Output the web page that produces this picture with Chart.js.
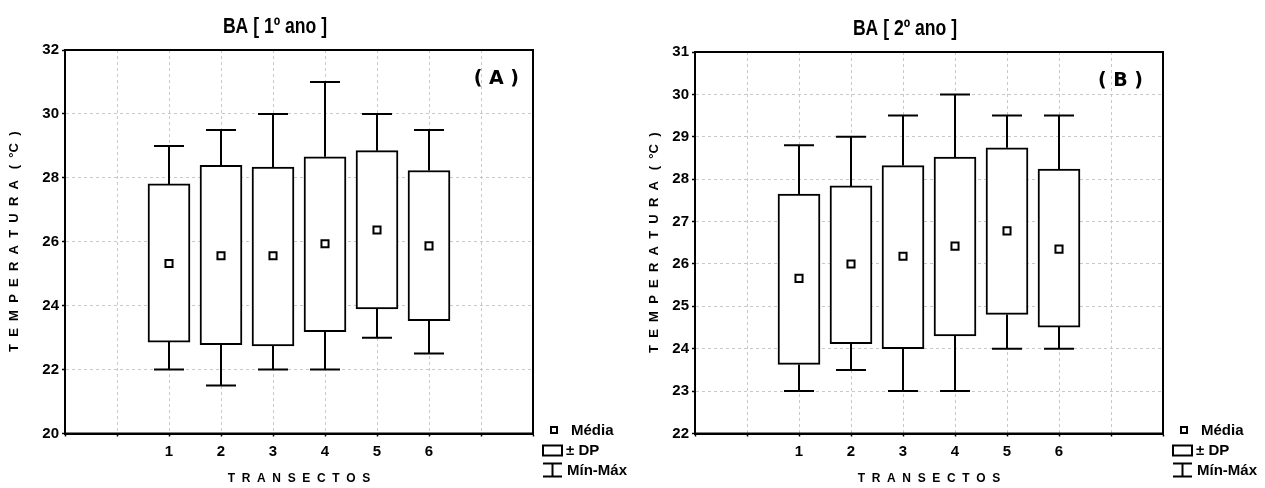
<!DOCTYPE html>
<html>
<head>
<meta charset="utf-8">
<script src="https://cdn.jsdelivr.net/npm/chart.js@4.4.0/dist/chart.umd.min.js"></script>
<style>
  html, body { margin: 0; padding: 0; background: #fff; }
  #page { position: relative; width: 1265px; height: 488px; }
  .panel { position: absolute; top: 0; height: 488px; }
  #panelA { left: 0; width: 640px; }
  #panelB { left: 640px; width: 625px; }
</style>
</head>
<body>
<div id="page">
  <div class="panel" id="panelA"><canvas id="chartA"></canvas></div>
  <div class="panel" id="panelB"><canvas id="chartB"></canvas></div>
</div>
<script>
// transects on the x axis
const transectos = [1, 2, 3, 4, 5, 6];

// BA 1st year
const ano1Media = [25.32, 25.56, 25.56, 25.94, 26.37, 25.87];
const ano1DPmin = [22.86, 22.78, 22.74, 23.19, 23.90, 23.53];
const ano1DPmax = [27.81, 28.39, 28.34, 28.66, 28.85, 28.23];
const ano1Min = [22, 21.5, 22, 22, 23, 22.5];
const ano1Max = [29, 29.5, 30, 31, 30, 29.5];

// BA 2nd year
const ano2Media = [25.66, 26.00, 26.18, 26.42, 26.78, 26.35];
const ano2DPmin = [23.63, 24.12, 24.00, 24.30, 24.81, 24.51];
const ano2DPmax = [27.65, 27.84, 28.32, 28.52, 28.74, 28.24];
const ano2Min = [23, 23.5, 23, 23, 24, 24];
const ano2Max = [28.8, 29, 29.5, 30, 29.5, 29.5];

// y axis ranges / tick steps
const yRangeA = [20, 32];
const yStepA = 2;
const yRangeB = [22, 31];
const yStepB = 1;

const legendLabels = ['Média', '± DP', 'Mín-Máx'];

Chart.defaults.font.family = "'Liberation Sans', Arial, sans-serif";
Chart.defaults.font.weight = 'bold';
Chart.defaults.color = '#000';

// whiskers, frame, titles and the little legend
const boxExtras = {
  id: 'boxExtras',
  beforeDatasetsDraw(chart, args, opts) {
    const { ctx, scales: { x, y } } = chart;
    ctx.save();
    ctx.strokeStyle = '#000';
    ctx.lineWidth = 2;
    transectos.forEach((t, i) => {
      const px = x.getPixelForValue(t);
      [[opts.lo[i], opts.min[i]], [opts.hi[i], opts.max[i]]].forEach(([from, to]) => {
        const y0 = y.getPixelForValue(from);
        const y1 = y.getPixelForValue(to);
        ctx.beginPath();
        ctx.moveTo(px, y0);
        ctx.lineTo(px, y1);
        ctx.moveTo(px - 15, y1);
        ctx.lineTo(px + 15, y1);
        ctx.stroke();
      });
    });
    ctx.restore();
  },
  afterDraw(chart, args, opts) {
    const { ctx, chartArea: a } = chart;
    ctx.save();
    // frame
    ctx.strokeStyle = '#000';
    ctx.lineWidth = 2;
    ctx.strokeRect(a.left, a.top, a.right - a.left, a.bottom - a.top);

    // title (narrow font)
    ctx.fillStyle = '#000';
    ctx.textBaseline = 'middle';
    ctx.textAlign = 'center';
    ctx.save();
    ctx.translate(a.left + 210, a.top - 23);
    ctx.scale(0.8, 1);
    ctx.font = "bold 22px 'Liberation Sans Narrow', 'Liberation Sans', sans-serif";
    ctx.fillText(opts.title, 0, 0);
    ctx.restore();

    // panel letter
    ctx.textAlign = 'right';
    ctx.font = "bold 19px 'DejaVu Sans', sans-serif";
    ctx.fillText(opts.label, a.right - opts.labelGap, a.top + 29);

    // legend
    const L = a.right, B = a.bottom;
    ctx.lineWidth = 2;
    ctx.strokeRect(L + 18, B - 6.5, 6, 6);
    ctx.strokeRect(L + 10, B + 12, 19, 10);
    ctx.beginPath();
    ctx.moveTo(L + 10, B + 30); ctx.lineTo(L + 29, B + 30);
    ctx.moveTo(L + 10, B + 43); ctx.lineTo(L + 29, B + 43);
    ctx.moveTo(L + 19.5, B + 30); ctx.lineTo(L + 19.5, B + 43);
    ctx.stroke();
    ctx.textAlign = 'left';
    ctx.font = "bold 15px 'Liberation Sans', Arial, sans-serif";
    ctx.fillText(legendLabels[0], L + 38, B - 3);
    ctx.fillText(legendLabels[1], L + 33, B + 17);
    ctx.fillText(legendLabels[2], L + 34, B + 37);
    ctx.restore();
  }
};

function makeChart(id, cfg) {
  return new Chart(document.getElementById(id), {
    type: 'bar',
    data: {
      datasets: [
        {
          type: 'line',
          label: legendLabels[0],
          data: transectos.map((t, i) => ({ x: t, y: cfg.media[i] })),
          showLine: false,
          pointStyle: 'rect',
          pointRadius: 5,
          pointBorderWidth: 2,
          pointBackgroundColor: '#fff',
          pointBorderColor: '#000',
          order: 1
        },
        {
          type: 'bar',
          label: legendLabels[1],
          data: transectos.map((t, i) => ({ x: t, y: [cfg.lo[i], cfg.hi[i]] })),
          backgroundColor: '#fff',
          borderColor: '#000',
          borderWidth: 2,
          borderSkipped: false,
          barThickness: 42,
          order: 2
        }
      ]
    },
    options: {
      responsive: true,
      maintainAspectRatio: false,
      animation: false,
      layout: { padding: { top: cfg.top, right: cfg.right, bottom: 0, left: 0 } },
      plugins: {
        legend: { display: false },
        tooltip: { enabled: false },
        boxExtras: {
          title: cfg.title, label: cfg.label, labelGap: cfg.labelGap,
          lo: cfg.lo, hi: cfg.hi, min: cfg.min, max: cfg.max
        }
      },
      scales: {
        x: {
          type: 'linear',
          min: -1,
          max: 8,
          offset: false,
          afterFit: s => { s.height = 54.5; },
          ticks: {
            stepSize: 1,
            autoSkip: false,
            padding: 6,
            font: { size: 15, weight: 'bold' },
            callback: v => transectos.includes(v) ? String(v) : ''
          },
          grid: { offset: false, color: '#c8c8c8', lineWidth: 1, tickLength: 3, tickColor: '#000', tickWidth: 1.5 },
          border: { color: '#000', width: 2, dash: [3, 3] },
          title: { display: true, text: 'T  R  A  N  S  E  C  T  O  S', font: { size: 12, weight: 'bold' }, padding: { top: 0, bottom: 2 } }
        },
        y: {
          min: cfg.yRange[0],
          max: cfg.yRange[1],
          afterFit: s => { s.width = cfg.yWidth; },
          ticks: { stepSize: cfg.yStep, padding: 3, font: { size: 15, weight: 'bold' } },
          grid: { color: '#c8c8c8', lineWidth: 1, tickLength: 3, tickColor: '#000', tickWidth: 1.5 },
          border: { color: '#000', width: 2, dash: [3, 3] },
          title: { display: true, text: 'T  E  M  P  E  R  A  T  U  R  A   (  °C  )', font: { size: 13, weight: 'bold' }, padding: { top: 7, bottom: 0 } }
        }
      }
    },
    plugins: [boxExtras]
  });
}

makeChart('chartA', {
  title: 'BA [ 1º ano ]', label: '( A )', labelGap: 14,
  media: ano1Media, lo: ano1DPmin, hi: ano1DPmax, min: ano1Min, max: ano1Max,
  yRange: yRangeA, yStep: yStepA, yWidth: 65, top: 50, right: 107
});

makeChart('chartB', {
  title: 'BA [ 2º ano ]', label: '( B )', labelGap: 20,
  media: ano2Media, lo: ano2DPmin, hi: ano2DPmax, min: ano2Min, max: ano2Max,
  yRange: yRangeB, yStep: yStepB, yWidth: 55, top: 52, right: 102
});
</script>
</body>
</html>
